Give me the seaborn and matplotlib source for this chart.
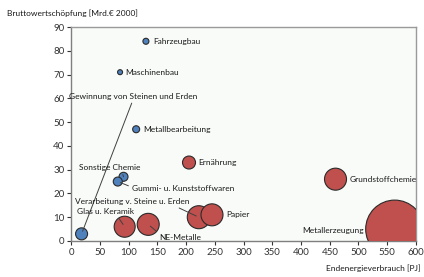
import pandas as pd
import numpy as np
import matplotlib
matplotlib.use("Agg")
import matplotlib.pyplot as plt
import seaborn as sns

# Daten
branchen = ['Fahrzeugbau', 'Maschinenbau', 'Metallbearbeitung', 'Gewinnung von Steinen und Erden',
            'Sonstige Chemie', 'Gummi- u. Kunststoffwaren', 'Ernährung', 'Glas u. Keramik',
            'NE-Metalle', 'Verarbeitung v. Steine u. Erden', 'Papier', 'Grundstoffchemie',
            'Metallerzeugung']
energie = [130, 85, 113, 18, 91, 81, 205, 93, 134, 222, 245, 460, 563]
wertschoepfung = [84, 71, 47, 3, 27, 25, 33, 6, 7, 10, 11, 26, 5]
gruppe = ['niedrig', 'niedrig', 'niedrig', 'niedrig', 'niedrig', 'niedrig', 'hoch', 'hoch',
          'hoch', 'hoch', 'hoch', 'hoch', 'hoch']
blase = [36, 25, 49, 144, 81, 81, 169, 441, 484, 529, 484, 484, 3364]

df = pd.DataFrame({'branche': branchen, 'energie': energie, 'bws': wertschoepfung,
                   'gruppe': gruppe, 'blase': blase})

sns.set_style("white")
plt.rcParams['font.family'] = ['Lato', 'DejaVu Sans']

fig = plt.figure(figsize=(4.24, 2.77), dpi=100)
ax = fig.add_axes([0.168, 0.13, 0.813, 0.7725])
ax.set_facecolor('#f8fbf8')

# Fläche in pt^2 proportional zum Blasenwert
px = 72 / 100
smin = min(blase) * px ** 2
smax = max(blase) * px ** 2
sns.scatterplot(data=df, x='energie', y='bws', hue='gruppe', size='blase',
                sizes=(smin, smax), size_norm=(min(blase), max(blase)),
                palette={'niedrig': '#4f81bd', 'hoch': '#c0504d'},
                edgecolor='#2a2a2a', linewidth=0.8, alpha=1, legend=False, ax=ax, zorder=3)

ax.set_xlim(0, 600)
ax.set_ylim(0, 90)
ax.set_xticks(np.arange(0, 601, 50))
ax.set_yticks(np.arange(0, 91, 10))
ax.set_xlabel('')
ax.set_ylabel('')
ax.tick_params(axis='both', labelsize=7, colors='#333333', length=3, width=0.8,
               direction='out', pad=2)
ax.tick_params(left=True, bottom=True)
for s in ['left', 'bottom']:
    ax.spines[s].set_color('#7f7f7f')
for s in ['top', 'right']:
    ax.spines[s].set_color('#9a9a9a')
for s in ax.spines.values():
    s.set_linewidth(1)

# Beschriftungen: (Versatz in pt, ha, mit Linie, relpos)
labels = {
    'Fahrzeugbau': ((5, 0), 'left', False, None),
    'Maschinenbau': ((4, 0), 'left', False, None),
    'Metallbearbeitung': ((5, 0), 'left', False, None),
    'Ernährung': ((7, 0), 'left', False, None),
    'Papier': ((10, 0), 'left', False, None),
    'Grundstoffchemie': ((10, 0), 'left', False, None),
    'Metallerzeugung': ((-22, -1), 'right', False, None),
    'Gewinnung von Steinen und Erden': ((37, 99), 'center', True, (0.5, 0)),
    'Sonstige Chemie': ((-10, 6.5), 'center', True, (0.7, 0)),
    'Gummi- u. Kunststoffwaren': ((10, -5), 'left', True, (0, 0.7)),
    'Verarbeitung v. Steine u. Erden': ((-48, 11.5), 'center', True, (0.85, 0)),
    'Glas u. Keramik': ((-14, 11), 'center', True, (0.7, 0)),
    'NE-Metalle': ((23, -9.5), 'center', True, (0.05, 0.8)),
}
for _, row in df.iterrows():
    off, ha, line, rel = labels[row['branche']]
    kw = {}
    if line:
        kw['arrowprops'] = dict(arrowstyle='-', color='#404040', lw=0.7,
                                relpos=rel, shrinkA=0, shrinkB=2)
    ax.annotate(row['branche'], (row['energie'], row['bws']), xytext=off,
                textcoords='offset points', ha=ha, va='center', fontsize=6,
                color='#1a1a1a', zorder=4, **kw)

fig.text(7 / 424, 1 - 13 / 277, 'Bruttowertschöpfung [Mrd.€ 2000]', fontsize=6,
         color='#1a1a1a', va='center', ha='left')
fig.text(420 / 424, 1 - 268 / 277, 'Endenergieverbrauch [PJ]', fontsize=6,
         color='#1a1a1a', va='center', ha='right')

fig.savefig('out.png', dpi=100)
